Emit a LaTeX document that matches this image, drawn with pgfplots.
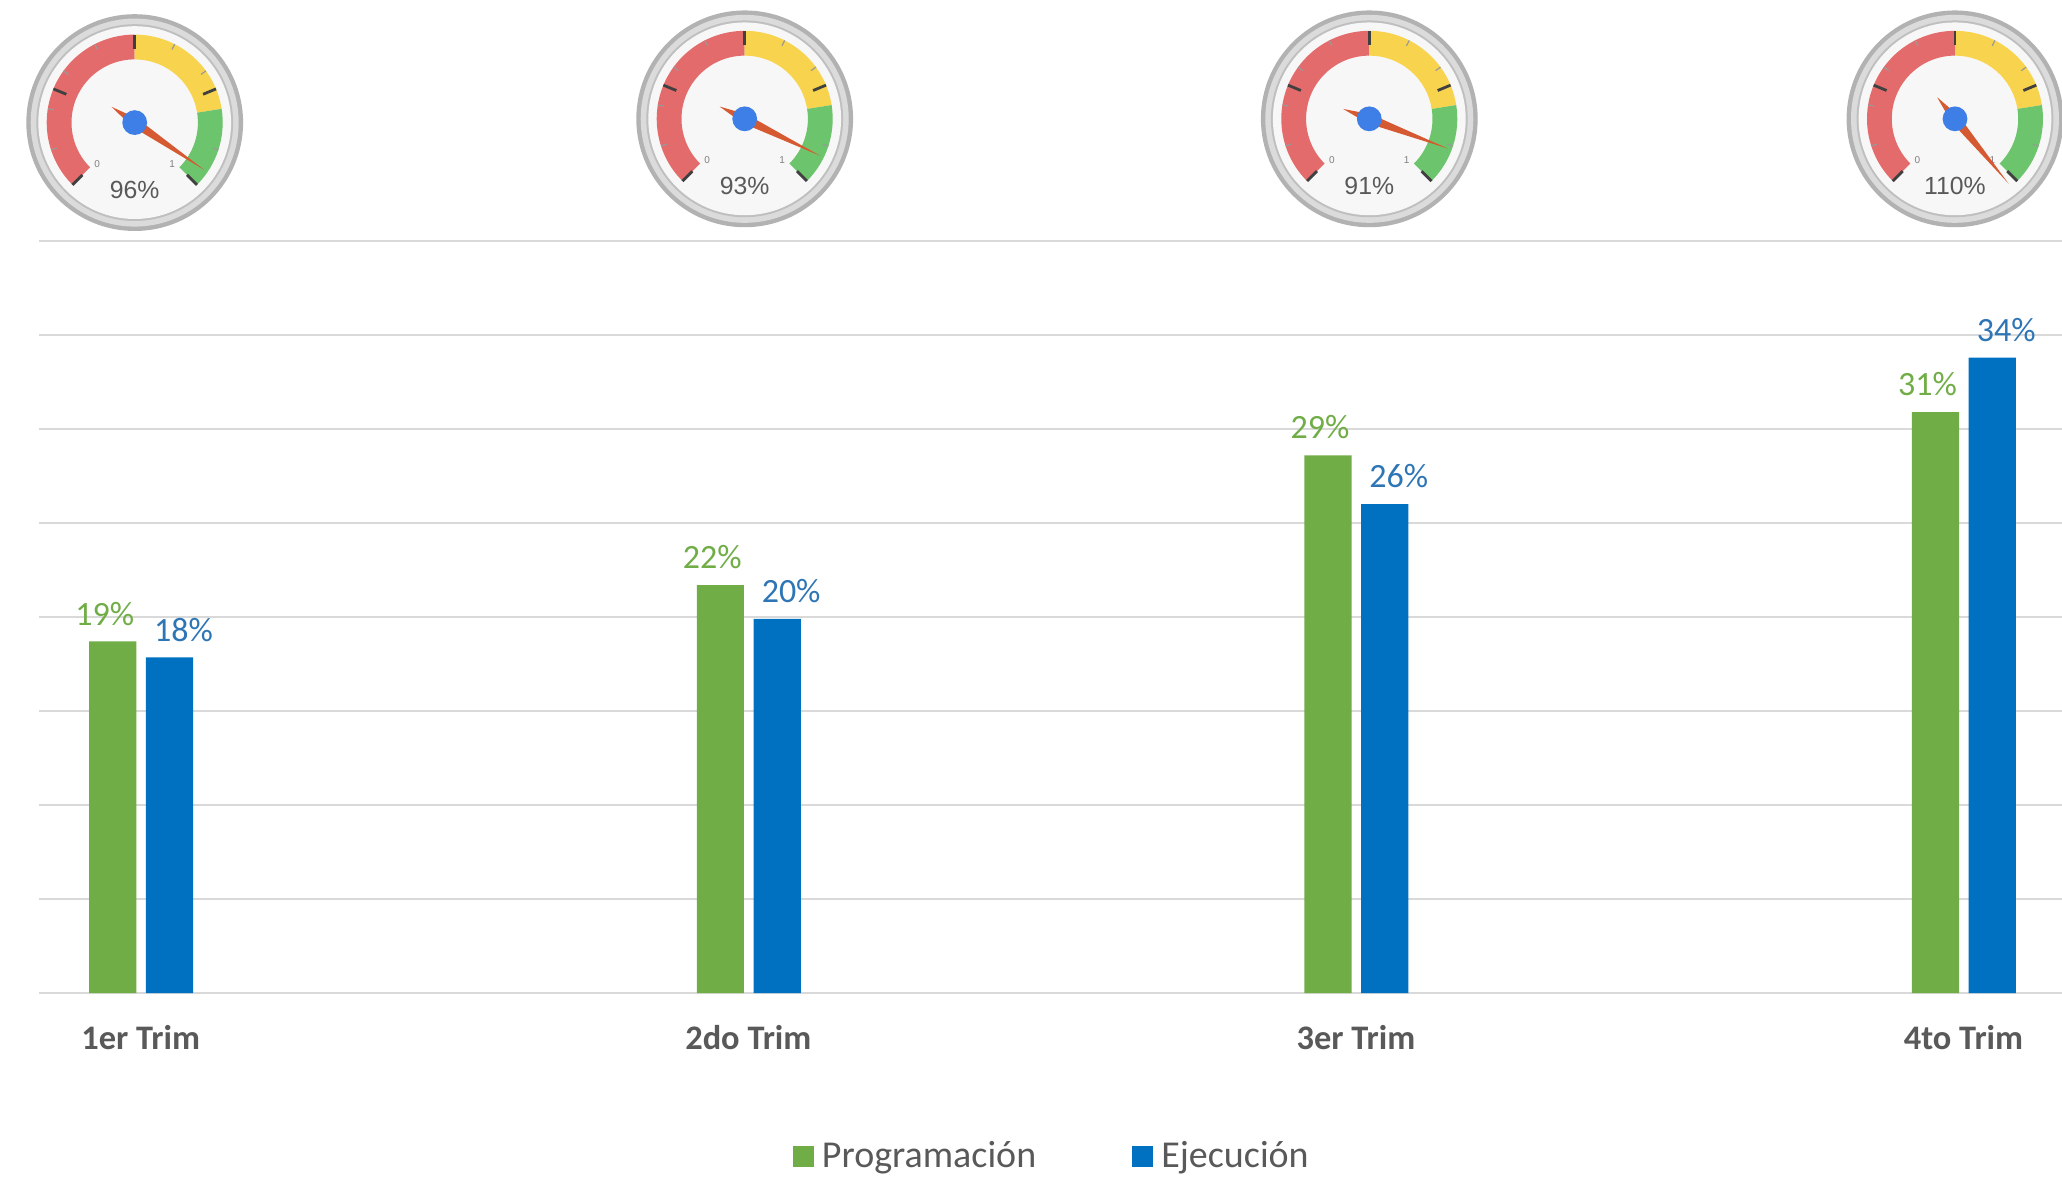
\documentclass[border=0pt]{standalone}
\usepackage{fontspec}
\setmainfont{Carlito}
\newfontfamily\gfont{Liberation Sans}
\usepackage{pgfplots}
\pgfplotsset{compat=1.18}

\definecolor{prog}{HTML}{70AD47}
\definecolor{ejec}{HTML}{0070C0}
\definecolor{proglbl}{HTML}{70AD47}
\definecolor{ejeclbl}{HTML}{2E75B6}
\definecolor{gridc}{HTML}{D9D9D9}
\definecolor{txt}{HTML}{595959}
\definecolor{gred}{HTML}{E46B6B}
\definecolor{gyel}{HTML}{F8D44E}
\definecolor{ggrn}{HTML}{6CC46C}
\definecolor{needle}{HTML}{D65A31}
\definecolor{hub}{HTML}{3D7FE6}

% gauge: #1 centre, #2 value (0..1), #3 label
\newcommand{\gauge}[3]{%
  \begin{scope}[shift={(#1)}]
    \fill[gray!60] (0,0) circle (27.1pt);
    \fill[gray!28] (0,0) circle (26pt);
    \fill[gray!50] (0,0) circle (24.6pt);
    \fill[gray!6] (0,0) circle (24.1pt);
    \fill[gred] (225:22pt) arc[start angle=225,end angle=90,radius=22pt]
      -- (90:15.8pt) arc[start angle=90,end angle=225,radius=15.8pt] -- cycle;
    \fill[gyel] (90:22pt) arc[start angle=90,end angle=9,radius=22pt]
      -- (9:15.8pt) arc[start angle=9,end angle=90,radius=15.8pt] -- cycle;
    \fill[ggrn] (9:22pt) arc[start angle=9,end angle=-45,radius=22pt]
      -- (-45:15.8pt) arc[start angle=-45,end angle=9,radius=15.8pt] -- cycle;
    \foreach \a in {225,157.5,90,22.5,-45}
      \draw[black!75, line width=0.7pt] (\a:18.5pt) -- (\a:22pt);
    \foreach \a in {198,171,144,117,63,36,-18}
      \draw[black!40, line width=0.3pt] (\a:20.5pt) -- (\a:22pt);
    \node[font=\gfont\fontsize{2.5}{3}\selectfont, text=gray] at (228:14pt) {0};
    \node[font=\gfont\fontsize{2.5}{3}\selectfont, text=gray] at (-48:14pt) {1};
    \node[font=\gfont\fontsize{6.2}{7}\selectfont, text=black!65] at (0,-16.8pt) {#3};
    \pgfmathsetmacro{\ang}{225-270*min(#2,1.02)}
    \fill[needle] (\ang:21pt) -- (\ang+90:1.2pt) -- (\ang+180:7pt) -- (\ang-90:1.2pt) -- cycle;
    \fill[hub] (0,0) circle (3.1pt);
  \end{scope}}

\begin{document}
\begin{tikzpicture}
\path[use as bounding box] (0,0) rectangle (515.5pt,295.5pt);
\begin{axis}[
  at={(9.875pt,47.25pt)}, anchor=south west,
  scale only axis, width=505.6pt, height=188pt,
  xmin=-0.1667, xmax=3.162, ymin=0, ymax=40,
  clip=false,
  axis line style={draw=none},
  major tick length=0pt,
  ytick={0,5,...,40}, yticklabels={},
  ymajorgrids, grid style={gridc, line width=0.6pt},
  xtick={0,1,2,3},
  xticklabels={1er Trim,2do Trim,3er Trim,4to Trim},
  xticklabel style={font=\fontsize{8.6}{10}\selectfont\bfseries, text=txt, anchor=base, yshift=-14pt},
  legend style={at={(0.502,-0.218)}, anchor=center, draw=none, fill=none,
    font=\fontsize{9.5}{11}\selectfont, text=txt, legend columns=2,
    /tikz/every even column/.append style={column sep=22pt}},
  legend image code/.code={\fill[#1,draw=none] (0pt,-2.6pt) rectangle (5.3pt,2.7pt);},
  point meta=explicit symbolic,
  nodes near coords={\pgfplotspointmeta},
]
\addplot[ybar, bar width=11.8pt, bar shift=-7pt, fill=prog, draw=none,
  every node near coord/.append style={font=\fontsize{8.5}{10}\selectfont, text=proglbl, anchor=south, xshift=-9pt, yshift=0.5pt}]
  coordinates {(0,18.7) [19\%] (1,21.7) [22\%] (2,28.6) [29\%] (3,30.9) [31\%]};
\addlegendentry{Programación}
\addplot[ybar, bar width=11.8pt, bar shift=7.2pt, fill=ejec, draw=none,
  every node near coord/.append style={font=\fontsize{8.5}{10}\selectfont, text=ejeclbl, anchor=south, xshift=10.7pt, yshift=0.5pt}]
  coordinates {(0,17.85) [18\%] (1,19.9) [20\%] (2,26.0) [26\%] (3,33.8) [34\%]};
\addlegendentry{Ejecución}
\coordinate (g1) at (axis cs:-0.01,46.3);
\coordinate (g2) at (axis cs:0.994,46.5);
\coordinate (g3) at (axis cs:2.022,46.5);
\coordinate (g4) at (axis cs:2.986,46.5);
\end{axis}
\gauge{g1}{0.96}{96\%}
\gauge{g2}{0.93}{93\%}
\gauge{g3}{0.91}{91\%}
\gauge{g4}{1.10}{110\%}
\end{tikzpicture}
\end{document}
